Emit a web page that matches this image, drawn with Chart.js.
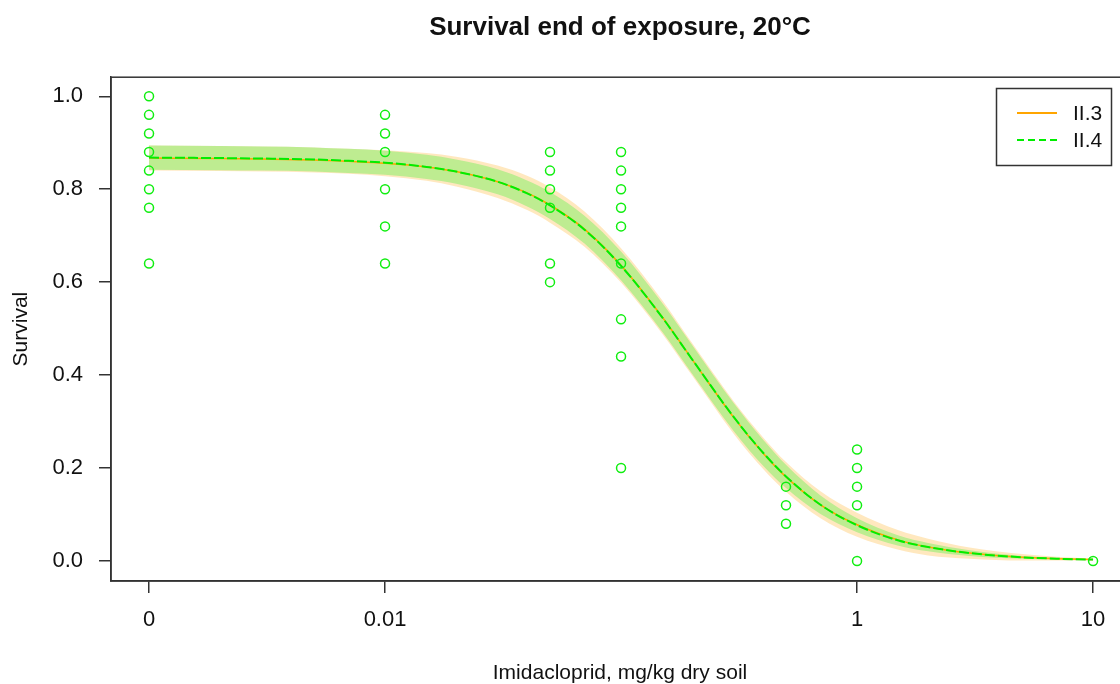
<!DOCTYPE html>
<html lang="en">
<head>
<meta charset="UTF-8">
<title>Survival end of exposure, 20°C</title>
<script src="https://cdn.jsdelivr.net/npm/chart.js"></script>
<style>
  html, body { margin: 0; padding: 0; overflow: hidden; background: #fff; }
  #wrap { width: 1140px; height: 684px; }
</style>
</head>
<body>
<div id="wrap"><canvas id="survChart"></canvas></div>
<script>
// observed survival per replicate (dose 0 is drawn at the 0.001 position)
const obsDose = [0, 0, 0, 0, 0, 0, 0, 0,
                 0.01, 0.01, 0.01, 0.01, 0.01, 0.01,
                 0.05, 0.05, 0.05, 0.05, 0.05, 0.05,
                 0.1, 0.1, 0.1, 0.1, 0.1, 0.1, 0.1, 0.1, 0.1,
                 0.5, 0.5, 0.5,
                 1, 1, 1, 1, 1,
                 10];
const obsSurv = [1.00, 0.96, 0.92, 0.88, 0.84, 0.80, 0.76, 0.64,
                 0.96, 0.92, 0.88, 0.80, 0.72, 0.64,
                 0.88, 0.84, 0.80, 0.76, 0.64, 0.60,
                 0.88, 0.84, 0.80, 0.76, 0.72, 0.64, 0.52, 0.44, 0.20,
                 0.16, 0.12, 0.08,
                 0.24, 0.20, 0.16, 0.12, 0.00,
                 0.00];
const zeroDosePos = 0.001;

// fitted curves
const curveDose = [0.001, 0.002, 0.003, 0.005, 0.007, 0.01, 0.015, 0.02, 0.03, 0.04, 0.05, 0.07,
                   0.1, 0.15, 0.2, 0.3, 0.4, 0.5, 0.7, 1, 1.5, 2, 3, 5, 7, 10];
const fitII3 = [0.867, 0.866, 0.865, 0.863, 0.860, 0.856, 0.848, 0.838, 0.816, 0.792, 0.766, 0.714,
                0.636, 0.524, 0.434, 0.309, 0.232, 0.181, 0.121, 0.078, 0.045, 0.030, 0.017, 0.008, 0.005, 0.003];
const fitII4 = [0.868, 0.867, 0.866, 0.864, 0.861, 0.857, 0.848, 0.838, 0.816, 0.791, 0.765, 0.713,
                0.635, 0.523, 0.434, 0.310, 0.233, 0.182, 0.121, 0.077, 0.044, 0.030, 0.017, 0.008, 0.005, 0.003];
const ciII3Low = [0.840, 0.839, 0.838, 0.836, 0.833, 0.828, 0.818, 0.806, 0.781, 0.755, 0.728, 0.676,
                  0.599, 0.488, 0.399, 0.274, 0.198, 0.149, 0.092, 0.052, 0.024, 0.012, 0.005, 0.001, 0.001, 0.001];
const ciII3High = [0.894, 0.893, 0.892, 0.890, 0.887, 0.884, 0.878, 0.870, 0.851, 0.829, 0.804, 0.752,
                   0.673, 0.560, 0.469, 0.344, 0.266, 0.213, 0.150, 0.104, 0.066, 0.048, 0.029, 0.015, 0.009, 0.005];
const ciII4Low = [0.842, 0.841, 0.840, 0.838, 0.835, 0.831, 0.822, 0.812, 0.789, 0.763, 0.736, 0.683,
                  0.604, 0.492, 0.403, 0.280, 0.205, 0.157, 0.101, 0.062, 0.033, 0.021, 0.011, 0.005, 0.003, 0.002];
const ciII4High = [0.894, 0.893, 0.892, 0.890, 0.887, 0.883, 0.874, 0.864, 0.843, 0.819, 0.794, 0.743,
                   0.666, 0.554, 0.465, 0.340, 0.261, 0.207, 0.141, 0.092, 0.055, 0.039, 0.023, 0.011, 0.007, 0.004];

const doseTicks = [0.001, 0.01, 1, 10];
const doseTickLabels = ['0', '0.01', '1', '10'];
const survTicks = [0, 0.2, 0.4, 0.6, 0.8, 1.0];
const legendLabels = ['II.3', 'II.4'];

const FONT = "'Liberation Sans', Arial, sans-serif";
const ORANGE = '#ffa500';
const GREEN = '#00ee00';

function pts(xs, ys) {
    return xs.map((x, i) => ({ x: x === 0 ? zeroDosePos : x, y: ys[i] }));
}

const bandStyle = { borderWidth: 0, pointRadius: 0, fill: false, cubicInterpolationMode: 'monotone' };

// plot frame + legend box, drawn R style
const framePlugin = {
    id: 'frame',
    afterDatasetsDraw(chart) {
        const { ctx, chartArea: a } = chart;
        ctx.save();
        ctx.strokeStyle = '#333';
        ctx.lineWidth = 1.5;
        ctx.strokeRect(a.left, a.top, a.right - a.left, a.bottom - a.top);

        // legend
        const lx = 996, ly = 88, lw = 115, lh = 77;
        ctx.fillStyle = '#fff';
        ctx.fillRect(lx, ly, lw, lh);
        ctx.strokeRect(lx + 0.5, ly + 0.5, lw, lh);
        const rows = [113, 140];
        const colors = [ORANGE, GREEN];
        const dashes = [[], [7, 4]];
        ctx.font = '21px ' + FONT;
        ctx.textBaseline = 'middle';
        rows.forEach((y, i) => {
            ctx.beginPath();
            ctx.setLineDash(dashes[i]);
            ctx.strokeStyle = colors[i];
            ctx.lineWidth = 2;
            ctx.moveTo(1017, y);
            ctx.lineTo(1057, y);
            ctx.stroke();
            ctx.setLineDash([]);
            ctx.fillStyle = '#111';
            ctx.fillText(legendLabels[i], 1073, y + 1);
        });
        ctx.restore();
    }
};

const ctx = document.getElementById('survChart').getContext('2d');
const survChart = new Chart(ctx, {
    type: 'line',
    data: {
        datasets: [
            {
                label: 'observed',
                data: pts(obsDose, obsSurv),
                showLine: false,
                pointStyle: 'circle',
                pointRadius: 4.5,
                pointBorderWidth: 1.5,
                pointBorderColor: '#11ee11',
                pointBackgroundColor: 'rgba(0,0,0,0)'
            },
            {
                label: legendLabels[1],
                data: pts(curveDose, fitII4),
                borderColor: GREEN,
                borderWidth: 2,
                borderDash: [10, 3],
                pointRadius: 0,
                fill: false,
                cubicInterpolationMode: 'monotone'
            },
            {
                label: legendLabels[0],
                data: pts(curveDose, fitII3),
                borderColor: ORANGE,
                borderWidth: 1.5,
                pointRadius: 0,
                fill: false,
                cubicInterpolationMode: 'monotone'
            },
            Object.assign({}, bandStyle, {
                label: 'II.4 upper',
                data: pts(curveDose, ciII4High),
                fill: 4,
                backgroundColor: 'rgba(147, 239, 114, 0.6)'
            }),
            Object.assign({}, bandStyle, { label: 'II.4 lower', data: pts(curveDose, ciII4Low) }),
            Object.assign({}, bandStyle, {
                label: 'II.3 upper',
                data: pts(curveDose, ciII3High),
                fill: 6,
                backgroundColor: 'rgba(255, 165, 0, 0.25)'
            }),
            Object.assign({}, bandStyle, { label: 'II.3 lower', data: pts(curveDose, ciII3Low) })
        ]
    },
    options: {
        responsive: true,
        maintainAspectRatio: false,
        animation: false,
        layout: { padding: { top: 0, right: 11, bottom: 0, left: 0 } },
        plugins: {
            legend: { display: false },
            tooltip: { enabled: false },
            title: {
                display: true,
                fullSize: false,
                text: 'Survival end of exposure, 20°C',
                color: '#111',
                font: { family: FONT, size: 26, weight: 'bold' },
                padding: { top: 12, bottom: 34 }
            }
        },
        scales: {
            x: {
                type: 'logarithmic',
                min: 0.00069,
                max: 14.2,
                afterFit(scale) { scale.height = 103; },
                afterBuildTicks(scale) { scale.ticks = doseTicks.map(v => ({ value: v })); },
                ticks: {
                    autoSkip: false,
                    maxRotation: 0,
                    padding: 14,
                    color: '#111',
                    font: { family: FONT, size: 22 },
                    callback: (v) => doseTickLabels[doseTicks.indexOf(v)]
                },
                grid: { display: true, drawOnChartArea: false, drawTicks: true, tickLength: 12, tickColor: '#333', lineWidth: 1.5 },
                border: { display: true, color: '#333', width: 1.5 },
                title: {
                    display: true,
                    text: 'Imidacloprid, mg/kg dry soil',
                    color: '#111',
                    font: { family: FONT, size: 21 },
                    padding: { top: 0, bottom: -2 }
                }
            },
            y: {
                type: 'linear',
                min: -0.043,
                max: 1.041,
                afterFit(scale) { scale.width = 111; },
                afterBuildTicks(scale) { scale.ticks = survTicks.map(v => ({ value: v })); },
                ticks: {
                    padding: 16,
                    color: '#111',
                    font: { family: FONT, size: 22 },
                    callback: (v) => v.toFixed(1)
                },
                grid: { display: true, drawOnChartArea: false, drawTicks: true, tickLength: 12, tickColor: '#333', lineWidth: 1.5 },
                border: { display: true, color: '#333', width: 1.5 },
                title: {
                    display: true,
                    text: 'Survival',
                    color: '#111',
                    font: { family: FONT, size: 21 },
                    padding: { top: 9, bottom: 0 }
                }
            }
        }
    },
    plugins: [framePlugin]
});
</script>
</body>
</html>
